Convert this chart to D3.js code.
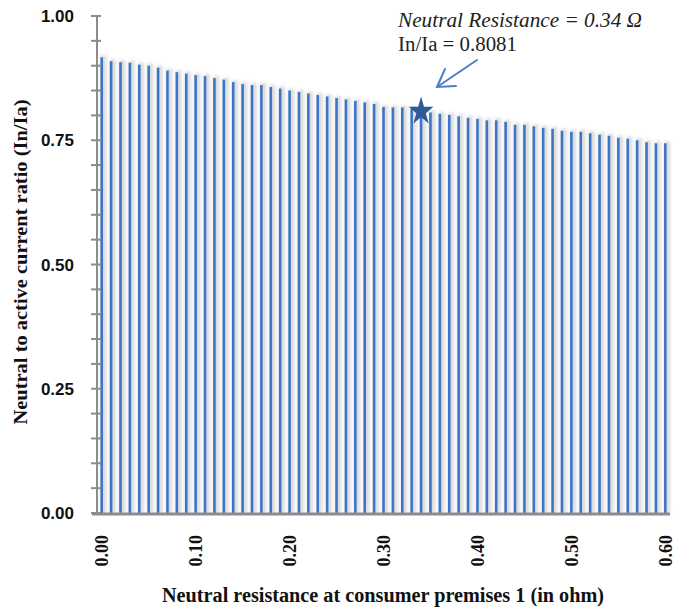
<!DOCTYPE html>
<html><head><meta charset="utf-8">
<script src="https://cdn.jsdelivr.net/npm/d3@7"></script>
<style>body{margin:0;background:#fff}svg{display:block}</style>
</head><body>
<svg id="c" width="675" height="612"></svg>
<script>
const categories = d3.range(61).map(i => (i/100).toFixed(2));
const ratios = [0.917,0.909,0.907,0.906,0.902,0.900,0.896,0.890,0.887,0.884,
  0.881,0.879,0.875,0.872,0.867,0.863,0.861,0.861,0.857,0.854,
  0.850,0.847,0.844,0.841,0.838,0.835,0.832,0.829,0.826,0.823,
  0.817,0.816,0.816,0.813,0.8081,0.806,0.803,0.801,0.798,0.795,
  0.793,0.790,0.790,0.787,0.781,0.781,0.778,0.775,0.773,0.769,
  0.767,0.767,0.764,0.761,0.759,0.755,0.753,0.750,0.746,0.744,0.744];
const xTickLabels = ["0.00","0.10","0.20","0.30","0.40","0.50","0.60"];
const yTickValues = [0,0.25,0.5,0.75,1.0];
const yMinorValues = d3.range(0,1.0001,0.05);
const marked = {cat:"0.34", value:0.8081, line1:"Neutral Resistance = 0.34 Ω", line2:"In/Ia = 0.8081"};

const svg = d3.select("#c");
const x = d3.scaleBand().domain(categories).range([97,670]).padding(0);
const y = d3.scaleLinear().domain([0,1]).range([513,16]);

const defs = svg.append("defs");
defs.append("filter").attr("id","blur").attr("x","-100%").attr("width","300%")
  .append("feGaussianBlur").attr("stdDeviation",1.8);

// shadow bands
svg.append("g").selectAll("rect").data(ratios).join("rect")
  .attr("x",(d,i)=>x(categories[i])+x.bandwidth()*0.5-1)
  .attr("width",x.bandwidth()*0.6)
  .attr("y",d=>y(d)-2).attr("height",d=>y(0)-y(d)+2)
  .attr("fill","#cfcfcf").attr("opacity",0.75).attr("filter","url(#blur)");
// bars
svg.append("g").selectAll("rect").data(ratios).join("rect")
  .attr("x",(d,i)=>x(categories[i])+x.bandwidth()/2-1.3)
  .attr("width",2.6)
  .attr("y",d=>y(d)).attr("height",d=>y(0)-y(d))
  .attr("fill","#3d76c6");

// y axis
const ya = svg.append("g").attr("transform","translate(97,0)");
ya.append("line").attr("y1",y(1)-1).attr("y2",y(0)).attr("stroke","#8c8c8c").attr("stroke-width",2);
ya.selectAll("line.t").data(yMinorValues).join("line").attr("class","t")
  .attr("x1",-6).attr("x2",4).attr("y1",d=>y(d)).attr("y2",d=>y(d))
  .attr("stroke","#8c8c8c").attr("stroke-width",2);
ya.selectAll("text").data(yTickValues).join("text")
  .attr("x",-23).attr("y",d=>y(d)).attr("dy","0.36em").attr("text-anchor","end")
  .attr("font-family","Liberation Sans, Arial, sans-serif").attr("font-weight","bold")
  .attr("font-size",17).attr("fill","#111").text(d=>d3.format(".2f")(d));

// x axis
svg.append("line").attr("x1",92).attr("x2",670).attr("y1",514).attr("y2",514)
  .attr("stroke","#8c8c8c").attr("stroke-width",3);
const xa = svg.append("g").attr("transform","translate(0,514)")
  .call(d3.axisBottom(x).tickValues(xTickLabels).tickSize(0).tickPadding(0));
xa.select(".domain").remove();
xa.selectAll("text").attr("transform","rotate(-90)")
  .attr("x",-21).attr("y",0).attr("dy","0.35em").attr("text-anchor","end")
  .attr("font-family","Liberation Serif, Times New Roman, serif").attr("font-weight","bold")
  .attr("font-size",18).attr("fill","#111");

// titles
svg.append("text").attr("x",383).attr("y",602).attr("text-anchor","middle")
  .attr("font-family","Liberation Serif, Times New Roman, serif").attr("font-weight","bold")
  .attr("font-size",20).attr("textLength",442).attr("lengthAdjust","spacingAndGlyphs")
  .attr("fill","#111").text("Neutral resistance at consumer premises 1 (in ohm)");
svg.append("text").attr("transform","translate(27,262) rotate(-90)").attr("text-anchor","middle")
  .attr("font-family","Liberation Serif, Times New Roman, serif").attr("font-weight","bold")
  .attr("font-size",19).attr("textLength",325).attr("lengthAdjust","spacingAndGlyphs")
  .attr("fill","#111").text("Neutral to active current ratio (In/Ia)");

// annotation
const sx = x(marked.cat)+x.bandwidth()/2, sy = y(marked.value);
svg.append("path").attr("d",d3.symbol().type(d3.symbolStar).size(190)())
  .attr("transform",`translate(${sx},${sy}) scale(1,1.15)`).attr("fill","#2d5b98");
svg.append("text").attr("x",398).attr("y",27)
  .attr("font-family","Liberation Serif, Times New Roman, serif").attr("font-style","italic")
  .attr("font-size",20).attr("textLength",244).attr("lengthAdjust","spacingAndGlyphs")
  .attr("fill","#222").text(marked.line1);
svg.append("text").attr("x",398).attr("y",51)
  .attr("font-family","Liberation Serif, Times New Roman, serif")
  .attr("font-size",20).attr("textLength",119).attr("lengthAdjust","spacingAndGlyphs")
  .attr("fill","#222").text(marked.line2);
const ar = svg.append("g").attr("stroke","#4a80c8").attr("stroke-width",2).attr("fill","none").attr("stroke-linecap","round");
ar.append("line").attr("x1",477).attr("y1",60).attr("x2",437).attr("y2",87);
ar.append("polyline").attr("points","445,69 437,87 456,86");
</script>
</body></html>
